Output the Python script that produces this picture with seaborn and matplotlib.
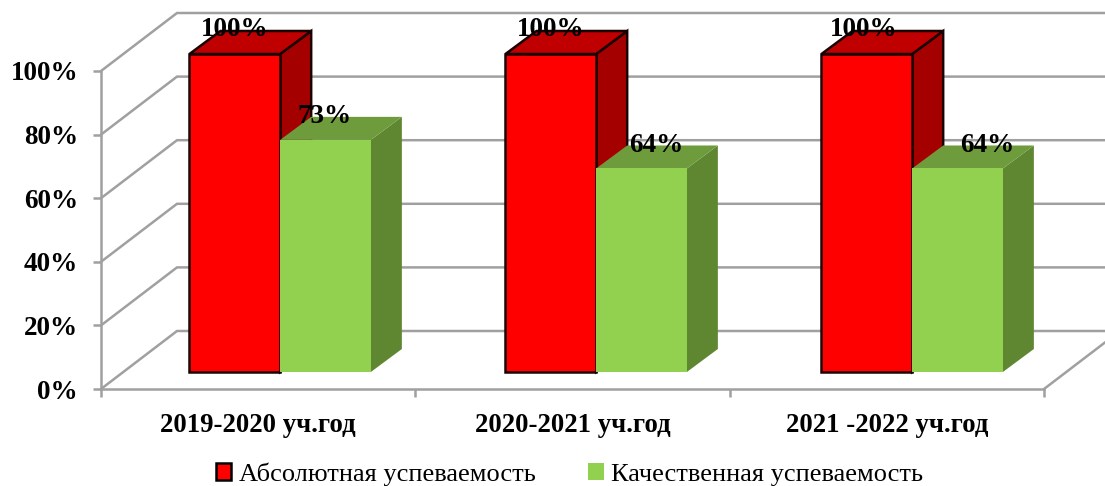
import matplotlib
matplotlib.use("Agg")
import matplotlib.pyplot as plt
import pandas as pd
import seaborn as sns
from matplotlib.patches import Polygon
from matplotlib.transforms import Affine2D, IdentityTransform

years = ["2019-2020 уч.год", "2020-2021 уч.год", "2021 -2022 уч.год"]
absolute = [100, 100, 100]
quality = [73, 64, 64]
series_names = ["Абсолютная успеваемость", "Качественная успеваемость"]
y_ticks = [0, 20, 40, 60, 80, 100]

W, H = 1105, 486
DPI = 100
sns.set_theme(style="white")
plt.rcParams["font.family"] = ["Liberation Serif", "DejaVu Serif"]

df = pd.DataFrame({
    "year": years * 2,
    "series": [series_names[0]] * 3 + [series_names[1]] * 3,
    "value": absolute + quality,
})

fig = plt.figure(figsize=(W / DPI, H / DPI), dpi=DPI, facecolor="white")
L, R, B, T = 101, 1044, H - 389, H - 71
ax = fig.add_axes([L / W, B / H, (R - L) / W, (T - B) / H])
ax.patch.set_alpha(0)

RED, GREEN = "#FF0000", "#92D050"
sns.barplot(data=df, x="year", y="value", hue="series", hue_order=series_names,
            palette=[RED, GREEN], width=0.574, saturation=1, ax=ax, legend=True,
            edgecolor="none", zorder=3)
ax.set_xlim(-0.5, 2.5)
ax.set_ylim(0, 100)
ax.set_xlabel("")
ax.set_ylabel("")

GRAY = "#A0A0A0"
LW = 1.8
for s in ["top", "right"]:
    ax.spines[s].set_visible(False)
for s in ["left", "bottom"]:
    ax.spines[s].set_color(GRAY)
    ax.spines[s].set_linewidth(LW)
ax.set_yticks(y_ticks)
ax.set_yticklabels([f"{v}%" for v in y_ticks], fontsize=19.5, fontweight="bold", color="black")
ax.set_xticks([0, 1, 2])
ax.set_xticklabels(years, fontsize=19.3, fontweight="bold", color="black")
ax.set_xticks([-0.5, 0.5, 1.5, 2.5], minor=True)
ax.tick_params(axis="y", which="major", left=True, length=5.5, width=LW, color=GRAY, pad=11)
ax.tick_params(axis="x", which="major", length=0, pad=17)
ax.tick_params(axis="x", which="minor", bottom=True, length=5.5, width=LW, color=GRAY)

fig.canvas.draw()
px = IdentityTransform()
WALL_DX, WALL_DY = 76, 58
FRONT_DX, FRONT_DY = 22, 17
DEPTH_DX, DEPTH_DY = 31, 23

# walls: gridlines on the back plane and diagonals on the side wall
to_px = ax.transData.transform
for v in y_ticks:
    x0, y0 = to_px((-0.5, v))
    x1, _ = to_px((2.5, v))
    ax.plot([x0, x0 + WALL_DX, x1 + WALL_DX], [y0, y0 + WALL_DY, y0 + WALL_DY],
            transform=px, color=GRAY, lw=LW, clip_on=False, zorder=1,
            solid_joinstyle="miter")
x1, y1 = to_px((2.5, 0))
ax.plot([x1, x1 + WALL_DX], [y1, y1 + WALL_DY], transform=px, color=GRAY, lw=LW,
        clip_on=False, zorder=1)

# front faces shifted into the depth of the floor, sides and tops derived from them
bars = [p for p in ax.patches if p.get_height() > 0]
n = len(years)
spread = Affine2D().translate(-258, 0).scale(316 / 314.33, 1).translate(258 + FRONT_DX, FRONT_DY)
styles = {
    0: dict(front=RED, top="#C00000", side="#A50000", edge="#1A0000", lw=1.8),
    1: dict(front=GREEN, top="#6E9B3C", side="#5F8732", edge="none", lw=0),
}
label_dx = {(0, 0): 0, (0, 1): 0, (0, 2): -3, (1, 0): -1, (1, 1): 15, (1, 2): 30}
label_dy = {0: 25, 1: 23}
for s in (0, 1):
    st = styles[s]
    for i in range(n):
        bar = bars[s * n + i]
        bar.set_transform(ax.transData + spread)
        bar.set_clip_on(False)
        bar.set_facecolor(st["front"])
        bar.set_edgecolor(st["edge"])
        bar.set_linewidth(st["lw"])
        bar.set_zorder(4 + 2 * s + 0.5)
        bb = bar.get_window_extent()
        x0, x1, y0, y1 = bb.x0, bb.x1, bb.y0, bb.y1
        side = [(x1, y0), (x1 + DEPTH_DX, y0 + DEPTH_DY), (x1 + DEPTH_DX, y1 + DEPTH_DY), (x1, y1)]
        top = [(x0, y1), (x1, y1), (x1 + DEPTH_DX, y1 + DEPTH_DY), (x0 + DEPTH_DX, y1 + DEPTH_DY)]
        for pts, col in ((side, st["side"]), (top, st["top"])):
            ax.add_patch(Polygon(pts, closed=True, transform=px, facecolor=col,
                                 edgecolor=st["edge"], linewidth=st["lw"], clip_on=False,
                                 zorder=4 + 2 * s))
        value = (absolute, quality)[s][i]
        ax.text((x0 + x1) / 2 + label_dx[(s, i)], y1 + label_dy[s], f"{value}%", transform=px,
                ha="center", va="center", fontsize=19.5, fontweight="bold", color="black",
                zorder=10, clip_on=False)

# legend
handles, labels = ax.get_legend_handles_labels()
ax.get_legend().remove()
handles[0].set_edgecolor("black")
handles[0].set_linewidth(1.8)
fig.legend(handles, labels, loc="center", bbox_to_anchor=(569.5 / W, 1 - 474 / H), ncol=2,
           frameon=False, fontsize=19, handlelength=0.58, handleheight=0.58,
           handletextpad=0.28, columnspacing=2.0, borderpad=0, labelcolor="black")

fig.savefig("out.png", dpi=DPI, facecolor="white")
